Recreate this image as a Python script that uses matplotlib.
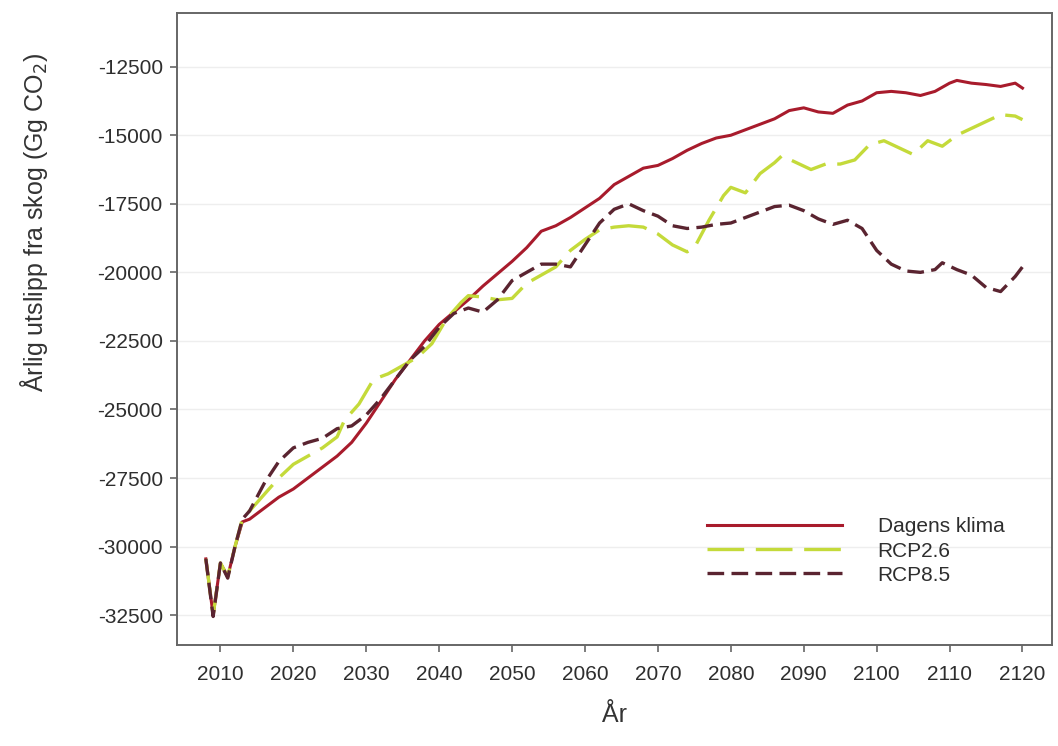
import matplotlib
matplotlib.use("Agg")
import matplotlib.pyplot as plt

# data
years_dagens = [2008, 2009, 2010, 2011, 2012, 2013, 2014, 2016, 2018, 2020,
                2022, 2024, 2026, 2028, 2030, 2032, 2034, 2036, 2038, 2040,
                2042, 2044, 2046, 2048, 2050, 2052, 2054, 2056, 2058, 2060,
                2062, 2064, 2066, 2068, 2070, 2072, 2074, 2076, 2078, 2080,
                2082, 2084, 2086, 2088, 2090, 2092, 2094, 2096, 2098, 2100,
                2102, 2104, 2106, 2108, 2110, 2111, 2113, 2115, 2117, 2119, 2120]
dagens = [-30450, -32500, -30600, -31100, -30000, -29100, -29000, -28600, -28200, -27900,
          -27500, -27100, -26700, -26200, -25500, -24700, -23900, -23200, -22500, -21900,
          -21450, -21000, -20500, -20050, -19600, -19100, -18500, -18300, -18000, -17650,
          -17300, -16800, -16500, -16200, -16100, -15850, -15550, -15300, -15100, -15000,
          -14800, -14600, -14400, -14100, -14000, -14150, -14200, -13900, -13750, -13450,
          -13400, -13450, -13550, -13400, -13100, -13000, -13100, -13150, -13220, -13100, -13280]

years_rcp26 = [2008, 2009, 2010, 2011, 2012, 2013, 2014, 2016, 2018, 2020,
               2022, 2024, 2026, 2027, 2029, 2031, 2033, 2035, 2037, 2039,
               2041, 2043, 2044, 2046, 2048, 2050, 2052, 2054, 2056, 2058,
               2060, 2062, 2064, 2066, 2068, 2070, 2072, 2074, 2075, 2077,
               2079, 2080, 2082, 2084, 2086, 2087, 2089, 2091, 2093, 2095,
               2097, 2099, 2101, 2103, 2105, 2107, 2109, 2111, 2113, 2115,
               2117, 2119, 2120]
rcp26 = [-30450, -32500, -30600, -31100, -30000, -29000, -28700, -28100, -27500, -27000,
         -26700, -26400, -26000, -25400, -24800, -23900, -23700, -23400, -23100, -22600,
         -21700, -21100, -20850, -20900, -21000, -20950, -20400, -20100, -19800, -19200,
         -18800, -18450, -18350, -18300, -18350, -18600, -19000, -19250, -19100, -18100,
         -17200, -16900, -17100, -16400, -16000, -15750, -16000, -16250, -16050, -16050,
         -15900, -15350, -15200, -15450, -15700, -15200, -15400, -15000, -14750, -14500,
         -14250, -14300, -14430]

years_rcp85 = [2008, 2009, 2010, 2011, 2012, 2013, 2014, 2016, 2018, 2020,
               2022, 2024, 2026, 2028, 2030, 2032, 2034, 2036, 2038, 2040,
               2042, 2044, 2046, 2048, 2050, 2052, 2054, 2056, 2058, 2060,
               2062, 2064, 2066, 2068, 2070, 2072, 2074, 2076, 2078, 2080,
               2082, 2084, 2086, 2088, 2090, 2092, 2094, 2096, 2098, 2100,
               2102, 2104, 2106, 2108, 2109, 2111, 2113, 2115, 2117, 2119, 2120]
rcp85 = [-30450, -32550, -30600, -31150, -30000, -29000, -28700, -27700, -26900, -26400,
         -26200, -26050, -25700, -25600, -25200, -24600, -23900, -23200, -22700, -22000,
         -21500, -21300, -21450, -21000, -20300, -20000, -19700, -19700, -19800, -19000,
         -18200, -17700, -17500, -17750, -17950, -18300, -18400, -18350, -18250, -18200,
         -18000, -17800, -17600, -17550, -17750, -18050, -18250, -18100, -18400, -19200,
         -19700, -19950, -20000, -19900, -19650, -19900, -20100, -20550, -20700, -20150, -19800]

yticks = [-12500, -15000, -17500, -20000, -22500, -25000, -27500, -30000, -32500]
xticks = list(range(2010, 2121, 10))

plt.rcParams['font.family'] = ['Liberation Sans', 'DejaVu Sans']

fig = plt.figure(figsize=(10.58, 7.46), dpi=100)
ax = fig.add_axes([0.167, 0.135, 0.827, 0.848])

ax.plot(years_dagens, dagens, color='#A81B2C', lw=2.2, label='Dagens klima', zorder=3)
ax.plot(years_rcp26, rcp26, color='#C4DA3A', lw=2.4, dashes=(11, 3.5), label='RCP2.6', zorder=4)
ax.plot(years_rcp85, rcp85, color='#5A2430', lw=2.4, dashes=(5, 2.2), label='RCP8.5', zorder=5)

ax.set_xlim(2004, 2124)
ax.set_ylim(-33600, -10530)
ax.set_yticks(yticks)
ax.set_xticks(xticks)
ax.set_yticklabels([str(v) for v in yticks])
ax.grid(axis='y', color='#EEEEEE', lw=1)
ax.set_axisbelow(True)

for s in ax.spines.values():
    s.set_color('#666666')
    s.set_linewidth(1.4)
ax.tick_params(axis='both', colors='#666666', labelcolor='#2E2E2E', labelsize=15,
               length=5, width=1.2, direction='out')
ax.tick_params(axis='x', pad=9)
ax.tick_params(axis='y', pad=5)

ax.set_ylabel('Årlig utslipp fra skog (Gg CO$_2$)', fontsize=18, color='#333333')
ax.yaxis.set_label_coords(-0.145, 0.669)
ax.set_xlabel('År', fontsize=18, color='#333333', labelpad=14)

ax.legend(loc='center left', bbox_to_anchor=(0.594, 0.149), frameon=False,
          fontsize=15, handlelength=6.5, handletextpad=1.7, labelspacing=0.25,
          borderpad=0, labelcolor='#2E2E2E')

fig.savefig('out.png', dpi=100)
